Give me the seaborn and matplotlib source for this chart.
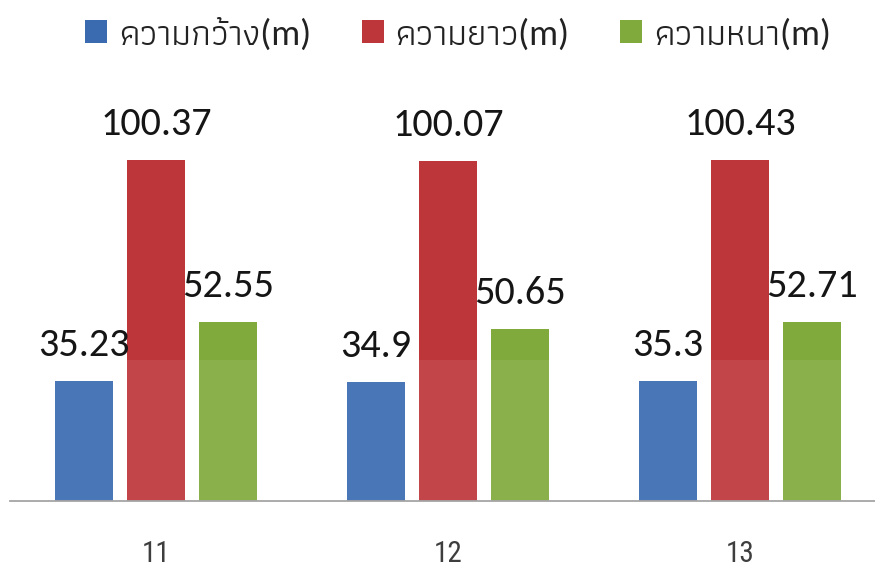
import matplotlib
matplotlib.use("Agg")
import matplotlib.pyplot as plt
from matplotlib.patches import Rectangle
import seaborn as sns
import pandas as pd
from matplotlib import font_manager

# Sample numbers and measured dimensions (metres)
samples = ["11", "12", "13"]
series_names = ["ความกว้าง(m)", "ความยาว(m)", "ความหนา(m)"]
width_m = [35.23, 34.9, 35.3]
length_m = [100.37, 100.07, 100.43]
thickness_m = [52.55, 50.65, 52.71]
series_values = [width_m, length_m, thickness_m]
colors = ["#3a6bb1", "#bc363a", "#80aa3c"]


def pick(candidates, fallback="DejaVu Sans"):
    installed = {f.name for f in font_manager.fontManager.ttflist}
    for name in candidates:
        if name in installed:
            return name
    return fallback


latin_font = pick(["Carlito", "Open Sans", "Lato"])
thai_font = pick(["Athiti", "Thasadith", "Sarabun", "Noto Sans Thai", "Loma"])
narrow_font = pick(["Liberation Sans Narrow", "Arimo Narrow", "Roboto Condensed",
                    "Archivo Narrow", "PT Sans Narrow", "Liberation Sans"])

sns.set_theme(style="white")
plt.rcParams["font.family"] = [latin_font, thai_font, "DejaVu Sans"]

df = pd.DataFrame({
    "sample": [s for _ in series_names for s in samples],
    "series": [n for n in series_names for _ in samples],
    "value": [v for vals in series_values for v in vals],
})

fig = plt.figure(figsize=(8.75, 5.74), dpi=100)
fig.patch.set_facecolor("white")
ax = fig.add_axes([10 / 875, 73 / 574, 876 / 875, 407.7 / 574])

sns.barplot(data=df, x="sample", y="value", hue="series", order=samples,
            hue_order=series_names, palette=colors, width=0.74, gap=0.2,
            linewidth=0, saturation=1, ax=ax)

handles, labels = ax.get_legend_handles_labels()
if ax.get_legend() is not None:
    ax.get_legend().remove()

ax.set_ylim(0, 120)
ax.set_xlabel("")
ax.set_ylabel("")
ax.set_yticks([])
for side in ["top", "left", "right"]:
    ax.spines[side].set_visible(False)
ax.spines["bottom"].set_color("#9e9e9e")
ax.spines["bottom"].set_linewidth(1.3)

ax.tick_params(axis="x", length=0, pad=28)
ax.set_xticks(range(len(samples)))
ax.set_xticklabels(samples, fontfamily=narrow_font, fontsize=21, color="#2e2e2e")

# value labels above each bar
for container, vals in zip(ax.containers, series_values):
    for bar, v in zip(container, vals):
        ax.annotate(f"{v:g}", (bar.get_x() + bar.get_width() / 2, bar.get_height()),
                    xytext=(0, 18), textcoords="offset points", ha="center",
                    va="baseline", fontsize=29, color="#151515")

fig.legend(handles, labels, loc="center", bbox_to_anchor=(458 / 875, 1 - 34 / 574),
           ncol=3, frameon=False, fontsize=26, handlelength=0.61, handleheight=0.61,
           handletextpad=0.33, columnspacing=1.39, labelcolor="#222222")

# lighter lower half of the page, as on the printed sheet
fig.patches.append(Rectangle((0, 0), 1, (574 - 360) / 574, transform=fig.transFigure,
                             facecolor="white", edgecolor="none", alpha=0.08))

fig.savefig("out.png", dpi=100, facecolor="white")
